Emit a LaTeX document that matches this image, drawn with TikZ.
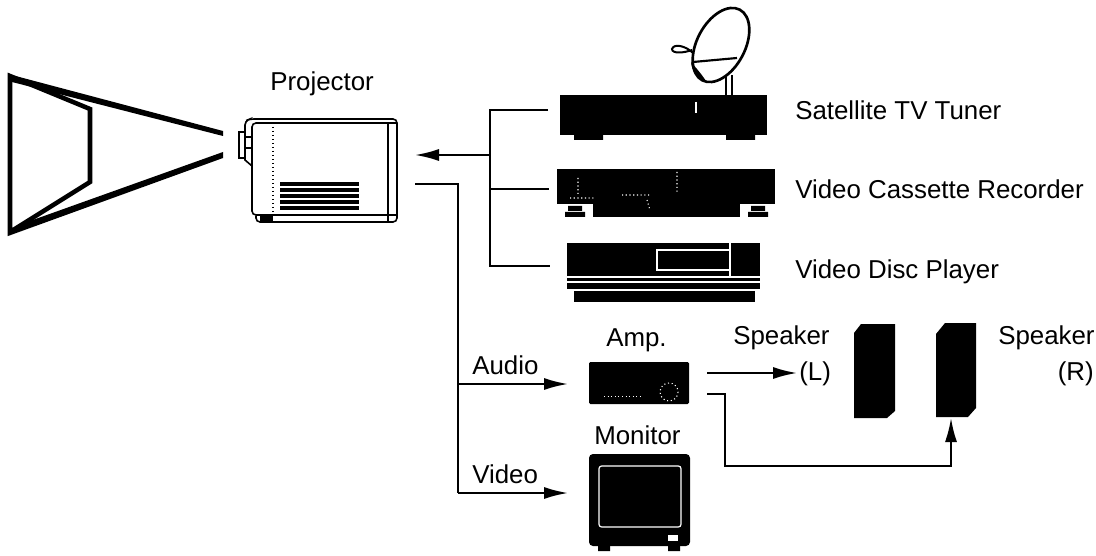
\documentclass[tikz,border=0pt]{standalone}
\usepackage{fontspec}
\setmainfont{Liberation Sans}
\usetikzlibrary{arrows.meta}
\tikzset{
  x=0.75pt,y=-0.75pt,
  lbl/.style={inner sep=0pt,anchor=base west,font=\fontsize{19.4pt}{22pt}\selectfont,text=black},
  lblr/.style={lbl,anchor=base east},
  wire/.style={line width=1.5pt,line join=miter},
  arrowwire/.style={wire,-{Latex[length=18pt,width=9pt]}},
  white detail/.style={draw=white,line width=0.9pt},
  thin line/.style={line width=1.2pt},
  device/.style={fill=black,draw=none,rectangle,minimum width=0pt,minimum height=0pt,inner sep=0pt}
}
\begin{document}
\begin{tikzpicture}
\useasboundingbox (0,0) rectangle (1096,556);
\fill[white] (0,0) rectangle (1096,556);

% projection screen and beam
\coordinate (scrTL) at (10,76);
\coordinate (scrBL) at (10,232);
\draw[line width=3.4pt,line join=miter] (90,109) -- (scrTL) -- (scrBL) -- (90,182) -- cycle;
\fill (8,74) -- (223,131) -- (223,136) -- (12,82) -- cycle;
\fill (8,236) -- (16,226) -- (223,152) -- (223,158) -- cycle;

% projector
\node[lbl] (tProj) at (270,91) {Projector};
\draw[thin line,rounded corners=3pt] (245,130) -- (245,121) -- (250,119) -- (397,119) -- (397,222) -- (256,222) -- (256,216);
\draw[thin line,rounded corners=3pt] (397,123) -- (252,123) -- (252,215) -- (397,215);
\draw[thin line] (239,132) rectangle (245,158);
\draw[thin line] (245,130) -- (245,160) -- (252,166);
\draw[thin line] (245,137) -- (252,137) (245,148) -- (252,148);
\draw[thin line] (388,123) -- (388,222);
\draw[line width=1pt,dotted] (273,123) -- (273,215);
\fill (260,215) rectangle (273,222);
\foreach \yy in {184,190,196,202,208} \draw[line width=2.6pt] (280,\yy) -- (359,\yy);

% satellite dish
\draw[line width=1.6pt] (726,75) -- (726,95) (732,75) -- (732,95);
\draw[fill=white,line width=2pt,rotate around={62:(721,45)}] (721,45) ellipse [x radius=40,y radius=24];
\draw[line width=1.6pt] (693,62) -- (737,58);
\fill (691,62) .. controls (692,72) and (698,78) .. (706,81) .. controls (700,72) and (696,68) .. (691,62) -- cycle;
\draw[line width=1.5pt] (693,53) .. controls (686,46) and (674,43) .. (672,49) .. controls (672,54) and (684,53) .. (692,50);

% tuner
\node[device,minimum width=207pt*0.75,minimum height=40pt*0.75] (tuner) at (663.5,115) {};
\fill (574,135) rectangle (603,140) (726,135) rectangle (755,140);
\draw[white detail] (696,102) -- (696,113);
\node[lbl] at (795,120) {Satellite TV Tuner};

% VCR
\node[device,minimum width=218pt*0.75,minimum height=35pt*0.75] (vcr) at (666,186.5) {};
\fill (593,204) rectangle (740,217);
\fill (568,206) rectangle (582,211) (565,212) rectangle (585,217);
\fill (751,206) rectangle (765,211) (748,212) rectangle (768,217);
\draw[white,line width=0.8pt,dotted] (578,178) -- (578,195) (570,198) -- (596,198) (622,195) -- (650,195) (677,172) -- (677,192) (647,200) -- (650,210);
\node[lbl] at (795,199) {Video Cassette Recorder};

% disc player
\node[device,minimum width=193pt*0.75,minimum height=47pt*0.75] (disc) at (663.5,266.5) {};
\fill (574,290) rectangle (755,302);
\draw[white detail] (729,250) -- (657,250) -- (657,270) -- (729,270);
\draw[white detail] (730,243) -- (730,277);
\draw[white detail] (567,277) -- (760,277) (567,282) -- (760,282) (567,290) -- (760,290);
\node[lbl] at (795,278) {Video Disc Player};

% amplifier
\node[lbl] (tAmp) at (606,346) {Amp.};
\node[device,rounded corners=1pt,minimum width=100pt*0.75,minimum height=42pt*0.75] (amp) at (639,383) {};
\draw[white,line width=0.7pt,dotted] (604,396) -- (642,396);
\draw[white,line width=0.8pt,dotted] (669,392) circle [radius=9];

% monitor
\node[lbl] (tMon) at (594,444) {Monitor};
\fill[rounded corners=3pt] (589,454) rectangle (690,546);
\fill (598,546) rectangle (610,551) (668,546) rectangle (680,551);
\draw[white detail,rounded corners=2pt] (599,466) rectangle (681,527);
\fill[white] (668,535) rectangle (678,541);
\coordinate (monIn) at (568,493);

% speakers
\fill (861,324) -- (895,324) -- (895,411) -- (887,418) -- (854,418) -- (854,333) -- cycle;
\fill (945,323) -- (976,323) -- (976,408) -- (968,417) -- (936,417) -- (936,334) -- cycle;
\node[lbl] (tSpkL) at (733,344) {Speaker};
\node[lbl] (tL) at (799,380) {(L)};
\node[lbl] (tSpkR) at (998,344) {Speaker};
\node[lblr] (tR) at (1094,380) {(R)};

% connectors
\coordinate (busTop) at (490,110);
\coordinate (busMid) at (490,155);
\coordinate (busVcr) at (490,189);
\coordinate (busBot) at (490,266);
\coordinate (projIn) at (415,155);
\coordinate (tunerIn) at (548,110);
\coordinate (vcrIn) at (549,189);
\coordinate (discIn) at (550,266);
\draw[wire] (tunerIn) -- (busTop) -- (busBot) -- (discIn);
\draw[wire] (busVcr) -- (vcrIn);
\draw[arrowwire] (busMid) -- (projIn);

\coordinate (projOut) at (415,184);
\coordinate (busOut) at (458,184);
\coordinate (audioTee) at (458,384);
\coordinate (videoCorner) at (458,493);
\coordinate (ampIn) at (568,384);
\draw[wire] (projOut) -- (busOut) -- (videoCorner);
\draw[arrowwire] (videoCorner) -- (monIn);
\draw[arrowwire] (audioTee) -- (ampIn);

\node[lbl] (tAudio) at (472,374) {Audio};
\node[lbl] (tVideo) at (472,483) {Video};

\coordinate (ampL) at (707,373);
\coordinate (spkLend) at (797,373);
\draw[arrowwire] (ampL) -- (spkLend);
\coordinate (ampR) at (707,394);
\coordinate (c1) at (725,394);
\coordinate (c2) at (725,466);
\coordinate (c3) at (951,466);
\coordinate (spkRin) at (951,418);
\draw[arrowwire] (ampR) -- (c1) -- (c2) -- (c3) -- (spkRin);
\end{tikzpicture}
\end{document}
